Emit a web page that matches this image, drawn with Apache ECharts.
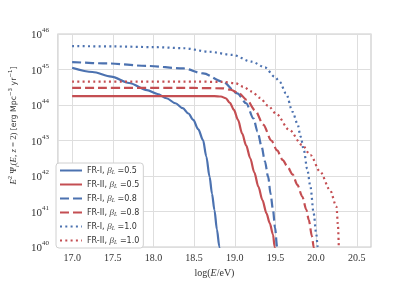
<!DOCTYPE html>
<html><head><meta charset="utf-8">
<script src="https://cdn.jsdelivr.net/npm/echarts@6/dist/echarts.min.js"></script>
<style>html,body{margin:0;padding:0;background:#fff}#c{width:413px;height:284px}</style>
</head><body><div id="c"></div>
<script>
// log10(E/eV) and log10 of E^2 Psi values for each curve
const fr1_b05 = [[17.0,45.05],[17.25,44.93],[17.48,44.80],[17.7,44.62],[17.92,44.42],[18.05,44.31],[18.16,44.19],[18.27,44.05],[18.36,43.91],[18.43,43.76],[18.49,43.58],[18.55,43.32],[18.61,43.01],[18.65,42.55],[18.69,41.98],[18.72,41.5],[18.75,41.04],[18.78,40.5],[18.81,40.01],[18.83,39.6]];
const fr2_b05 = [[17.0,44.25],[17.5,44.25],[18.0,44.25],[18.5,44.25],[18.75,44.25],[18.83,44.24],[18.89,44.19],[18.94,44.06],[18.99,43.86],[19.04,43.58],[19.09,43.20],[19.14,42.86],[19.19,42.50],[19.24,42.10],[19.29,41.70],[19.34,41.32],[19.39,40.95],[19.43,40.67],[19.47,40.35],[19.49,40.01],[19.51,39.6]];
const fr1_b08 = [[17.0,45.21],[17.44,45.17],[17.92,45.10],[18.37,45.03],[18.61,44.89],[18.85,44.66],[19.03,44.33],[19.14,44.05],[19.23,43.62],[19.28,43.25],[19.33,42.83],[19.37,42.42],[19.41,41.98],[19.44,41.5],[19.47,41.04],[19.495,40.55],[19.52,40.01],[19.54,39.6]];
const fr2_b08 = [[17.0,44.48],[18.5,44.48],[18.85,44.47],[18.95,44.43],[19.05,44.33],[19.15,44.14],[19.25,43.85],[19.35,43.45],[19.45,43.0],[19.52,42.72],[19.59,42.45],[19.65,42.25],[19.71,42.05],[19.77,41.75],[19.83,41.42],[19.88,41.05],[19.91,40.76],[19.95,40.29],[19.97,40.0],[19.98,39.6]];
const fr1_b10 = [[17.0,45.66],[17.5,45.65],[18.0,45.63],[18.37,45.60],[18.69,45.50],[18.97,45.41],[19.21,45.22],[19.37,45.06],[19.49,44.80],[19.55,44.66],[19.63,44.33],[19.71,43.81],[19.77,43.48],[19.81,43.11],[19.85,42.72],[19.89,42.2],[19.93,41.70],[19.97,40.95],[20.0,40.4],[20.02,40.0],[20.03,39.6]];
const fr2_b10 = [[17.0,44.66],[18.5,44.66],[18.85,44.65],[19.01,44.61],[19.1,44.52],[19.21,44.38],[19.31,44.2],[19.41,43.98],[19.51,43.75],[19.67,43.30],[19.83,42.87],[19.93,42.59],[20.05,42.12],[20.17,41.61],[20.25,41.14],[20.27,40.57],[20.28,40.0],[20.285,39.6]];

const seriesNames = ['FR-I|0.5','FR-II|0.5','FR-I|0.8','FR-II|0.8','FR-I|1.0','FR-II|1.0'];
const seriesData = [fr1_b05, fr2_b05, fr1_b08, fr2_b08, fr1_b10, fr2_b10];
const xTicks = [17.0,17.5,18.0,18.5,19.0,19.5,20.0,20.5];
const yMinExp = 40, yMaxExp = 46;

const BLUE = '#4c72b0', RED = '#c44e52';
const colors = [BLUE, RED, BLUE, RED, BLUE, RED];
const dashes = ['solid','solid',[9,4],[9,4],[2,3.3],[2,3.3]];
const SERIF = '"Liberation Serif", "DejaVu Serif", serif';
const SANS = '"DejaVu Sans", sans-serif';

const chart = echarts.init(document.getElementById('c'), null, {renderer:'canvas'});
const series = seriesNames.map((n,i)=>({
  name:n, type:'line', showSymbol:false, symbol:'none', smooth:0.3, smoothMonotone:'x',
  clip:true, animation:false,
  lineStyle:{color:colors[i], width:2.2, type:dashes[i], cap:'butt'},
  itemStyle:{color:colors[i]},
  data: seriesData[i].map(p=>[p[0], Math.pow(10,p[1])])
}));

chart.setOption({
  backgroundColor:'#ffffff',
  animation:false,
  grid:{left:52, top:34, right:42, bottom:37, show:true, borderColor:'#cccccc', borderWidth:1.2, containLabel:false},
  xAxis:{type:'value', min:16.825, max:20.675,
    axisLine:{show:false}, axisTick:{show:false, customValues:xTicks},
    splitLine:{show:true, lineStyle:{color:'#dedede', width:1}},
    axisLabel:{customValues:xTicks, formatter:v=>v.toFixed(1), color:'#333', fontFamily:SERIF, fontSize:10, margin:6},
    name:'{n|log(}{i|E}{n|/eV)}', nameLocation:'middle', nameGap:18,
    nameTextStyle:{rich:{n:{fontFamily:SERIF, fontSize:10, color:'#333'}, i:{fontFamily:SERIF, fontStyle:'italic', fontSize:10, color:'#333'}}}
  },
  yAxis:{type:'log', logBase:10, min:Math.pow(10,yMinExp), max:Math.pow(10,yMaxExp), interval:1,
    axisLine:{show:false}, axisTick:{show:false},
    splitLine:{show:true, lineStyle:{color:'#dedede', width:1}},
    axisLabel:{showMaxLabel:true, showMinLabel:true,
      formatter:v=>'{b|10}{s|'+Math.round(Math.log10(v))+'}', margin:9,
      rich:{b:{fontFamily:SERIF, fontSize:11, color:'#333', verticalAlign:'bottom', lineHeight:14}, s:{fontFamily:SERIF, fontSize:7, color:'#333', verticalAlign:'top', lineHeight:14, padding:[0,0,6,0]}}},
    name:'{p| }{i|E}{s|2}{n| Ψ}{d|i}{n|(}{i|E}{n|, }{i|z}{n| = 2) }{f|[erg Mpc}{s|−3}{f| yr}{s|−1}{f|]}',
    nameLocation:'middle', nameRotate:90, nameGap:1,
    nameTextStyle:{rich:{
      p:{width:30, fontSize:8},
      n:{fontFamily:SERIF, fontSize:8.8, color:'#333', lineHeight:12},
      i:{fontFamily:SERIF, fontStyle:'italic', fontSize:8.8, color:'#333', lineHeight:12},
      f:{fontFamily:SANS, fontSize:7.8, color:'#333', lineHeight:12},
      s:{fontFamily:SANS, fontSize:5.5, color:'#333', verticalAlign:'top', lineHeight:12, padding:[0,0,4,0]},
      d:{fontFamily:SERIF, fontStyle:'italic', fontSize:6, color:'#333', verticalAlign:'bottom', lineHeight:12}
    }}
  },
  legend:{orient:'vertical', left:56, top:163, itemWidth:22, itemHeight:8, itemGap:5,
    backgroundColor:'#ffffff', borderColor:'#d0d0d0', borderWidth:1, borderRadius:3, padding:[3,4,3,3],
    itemStyle:{color:'rgba(0,0,0,0)', borderWidth:0, opacity:0},
    data:seriesNames,
    formatter:n=>{const [g,b]=n.split('|'); return '{t|'+g+', }{g|β}{d|L}{t| ='+b+'}';},
    textStyle:{color:'#333', rich:{
      t:{fontFamily:SANS, fontSize:8, color:'#333'},
      g:{fontFamily:SERIF, fontStyle:'italic', fontSize:9, color:'#444'},
      d:{fontFamily:SERIF, fontStyle:'italic', fontSize:6, color:'#444', verticalAlign:'bottom'}
    }}
  },
  series:series
});
</script></body></html>
